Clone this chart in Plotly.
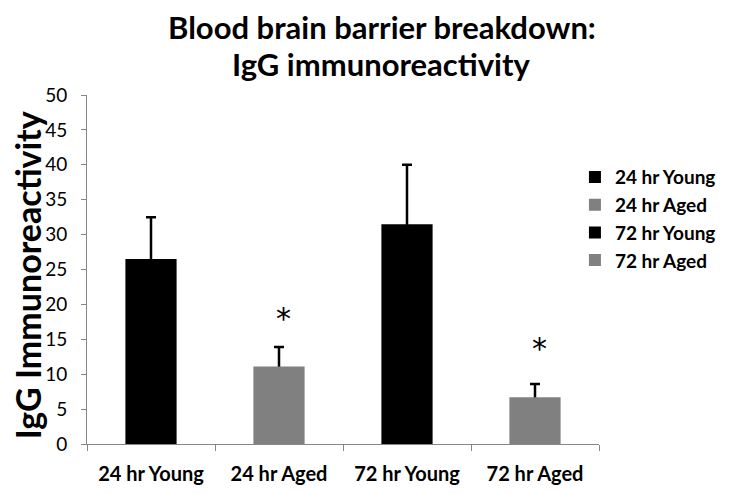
import plotly.graph_objects as go

categories = ["24 hr Young", "24 hr Aged", "72 hr Young", "72 hr Aged"]
values = [26.5, 11.1, 31.5, 6.7]
errors_up = [6.0, 2.8, 8.5, 1.9]
colors = ["#000000", "#808080", "#000000", "#808080"]
star_labels = ["", "*", "", "*"]
star_y = [None, 18.6, None, 14.2]
y_ticks = [0, 5, 10, 15, 20, 25, 30, 35, 40, 45, 50]
title_lines = ["Blood brain barrier breakdown:", "IgG immunoreactivity"]
y_title = "IgG Immunoreactivity"

FONT = "Lato, 'Open Sans', sans-serif"

fig = go.Figure()
# error bars (drawn first, lower cap hidden behind bars)
for i, cat in enumerate(categories):
    fig.add_trace(go.Bar(
        x=[cat], y=[values[i]], width=0.4, showlegend=False, hoverinfo="skip",
        marker=dict(color="rgba(0,0,0,0)", line=dict(width=0)),
        error_y=dict(type="data", symmetric=False, array=[errors_up[i]],
                     arrayminus=[1.0], color="black", thickness=2.5, width=5),
    ))
for i, cat in enumerate(categories):
    fig.add_trace(go.Bar(
        x=[cat], y=[values[i]], name="<b>" + cat + "</b>",
        marker=dict(color=colors[i], line=dict(width=0)),
        width=0.4, legendgroup=cat,
    ))

for i, cat in enumerate(categories):
    if star_labels[i]:
        fig.add_annotation(x=cat, y=star_y[i], text=star_labels[i], showarrow=False,
                           xshift=4, yshift=-4,
                           font=dict(family="DejaVu Sans", size=30, color="black"))

fig.add_annotation(text="<b>" + title_lines[0] + "</b>", xref="paper", yref="paper",
                   x=0.576, y=1.1954, xanchor="center", yanchor="middle", showarrow=False,
                   font=dict(family=FONT, size=31, color="black"))
fig.add_annotation(text="<b>" + title_lines[1] + "</b>", xref="paper", yref="paper",
                   x=0.576, y=1.0883, xanchor="center", yanchor="middle", showarrow=False,
                   font=dict(family=FONT, size=31, color="black"))
fig.add_annotation(text="<b>" + y_title + "</b>", xref="paper", yref="paper",
                   x=-0.117, y=0.484, xanchor="center", yanchor="middle", showarrow=False,
                   textangle=-90, font=dict(family=FONT, size=34, color="black"))

fig.update_layout(
    width=723, height=486,
    margin=dict(l=79, r=132, t=87, b=50, autoexpand=False),
    paper_bgcolor="white", plot_bgcolor="white",
    barmode="overlay",
    showlegend=True,
    legend=dict(x=0.953, xanchor="left", y=0.819, yanchor="top",
                font=dict(family=FONT, size=19, color="black"),
                tracegroupgap=4, traceorder="normal",
                bgcolor="rgba(0,0,0,0)"),
    font=dict(family=FONT, color="black"),
)

fig.update_xaxes(
    type="category", categoryorder="array", categoryarray=categories,
    showline=True, linecolor="#868686", linewidth=1,
    ticks="outside", tickson="boundaries", ticklen=6, tickcolor="#868686",
    tickfont=dict(family=FONT, size=20, color="black"),
    tickprefix="<b>", ticksuffix="</b>", ticklabelstandoff=12,
    showgrid=False, zeroline=False, automargin=False,
)
fig.update_yaxes(
    range=[0, 50], tickvals=y_ticks,
    showline=True, linecolor="#868686", linewidth=1,
    ticks="outside", ticklen=5, tickcolor="#868686",
    tickfont=dict(family=FONT, size=19, color="black"),
    tickprefix="<b>", ticksuffix="</b>", ticklabelstandoff=10,
    showgrid=False, zeroline=False, automargin=False,
)

fig.write_html("out.html")
